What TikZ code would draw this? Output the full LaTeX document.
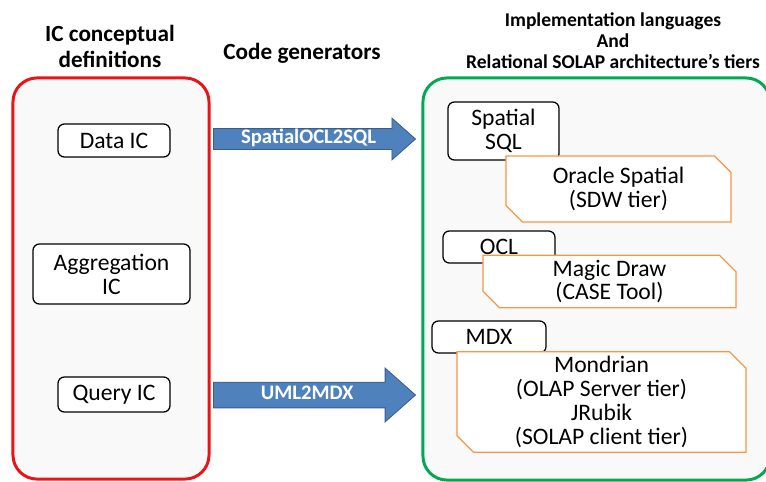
\documentclass[tikz,border=0pt]{standalone}
\usepackage{fontspec}
\setmainfont{Carlito}
\usetikzlibrary{shapes.misc,shapes.arrows,positioning}

\definecolor{icred}{RGB}{232,20,22}
\definecolor{implgreen}{RGB}{0,170,80}
\definecolor{tierorange}{RGB}{247,150,70}
\definecolor{genblue}{RGB}{79,129,189}
\definecolor{genedge}{RGB}{56,93,138}

\begin{document}
\begin{tikzpicture}[x=0.025cm,y=-0.025cm]
    \tikzset{
        panel/.style={rounded corners=0.6cm,line width=2.1pt,fill=gray!5,inner sep=0pt},
        title/.style={font=\bfseries\fontsize{16.5}{18.5}\selectfont,align=center},
        icbox/.style={draw,rounded corners=0.16cm,line width=0.9pt,fill=white,
            align=center,inner sep=0pt,font=\fontsize{16.8}{17}\selectfont},
        toolbox/.style={chamfered rectangle,
            chamfered rectangle corners={north east,south west},
            chamfered rectangle xsep=0.3cm,draw=tierorange,line width=0.9pt,
            fill=white,align=center,inner sep=0pt,font=\fontsize{16.8}{17}\selectfont},
        genarrow/.style={single arrow,draw=genedge,fill=genblue,line width=0.6pt,
            text=white,font=\bfseries\fontsize{14.7}{15}\selectfont,
            single arrow tip angle=83,minimum height=5.05cm,anchor=tail,
            text height=0.3cm,text depth=0.06cm,inner xsep=2pt}
    }
    \useasboundingbox (0,0) rectangle (766,481);

    % the two columns
    \node[panel,draw=icred,minimum width=4.9cm,minimum height=10.025cm]
        (defs) at (111,278.5) {};
    \node[panel,draw=implgreen,minimum width=8.675cm,minimum height=10.05cm]
        (impl) at (596.5,279) {};

    \node[title] (deftitle) at (110,46) {IC conceptual\\definitions};
    \node[title] (gentitle) at (302,53) {Code generators};
    \node[title,font=\bfseries\fontsize{13.9}{15}\selectfont] (impltitle) at (613,41)
        {Implementation languages\\And\\Relational SOLAP architecture’s tiers};

    % IC definitions
    \node[icbox,minimum width=2.8cm,minimum height=0.825cm] (data) at (114,140.5) {Data IC};
    \node[icbox,minimum width=3.925cm,minimum height=1.5cm] (aggr) at (111.5,274) {Aggregation\\IC};
    \node[icbox,minimum width=2.8cm,minimum height=0.875cm] (query) at (114,394.5) {Query IC};

    % code generators
    \node[genarrow,inner ysep=0.07cm,minimum width=1.025cm,single arrow head extend=0.26cm]
        (ocl2sql) at (213,139) {SpatialOCL2SQL};
    \node[genarrow,inner ysep=0.13cm,minimum width=1.325cm,single arrow head extend=0.35cm]
        (uml2mdx) at (213,395) {UML2MDX};

    % languages and tiers
    \node[icbox,minimum width=2.775cm,minimum height=1.45cm] (sql) at (503.5,131) {Spatial\\SQL};
    \node[toolbox,minimum width=5.625cm,minimum height=1.65cm] (oracle) at (618.5,189)
        {Oracle Spatial\\(SDW tier)};
    \node[icbox,minimum width=2.8cm,minimum height=0.8cm] (ocl) at (499,247) {OCL};
    \node[toolbox,minimum width=6.325cm,minimum height=1.125cm] (magic) at (609.5,281.5)
        {Magic Draw\\(CASE Tool)};
    \node[icbox,minimum width=2.85cm,minimum height=0.8cm] (mdx) at (489,337) {MDX};
    \node[toolbox,minimum width=7.225cm,minimum height=2.5cm] (mondrian) at (601.5,402)
        {Mondrian\\(OLAP Server tier)\\JRubik\\(SOLAP client tier)};
\end{tikzpicture}
\end{document}
